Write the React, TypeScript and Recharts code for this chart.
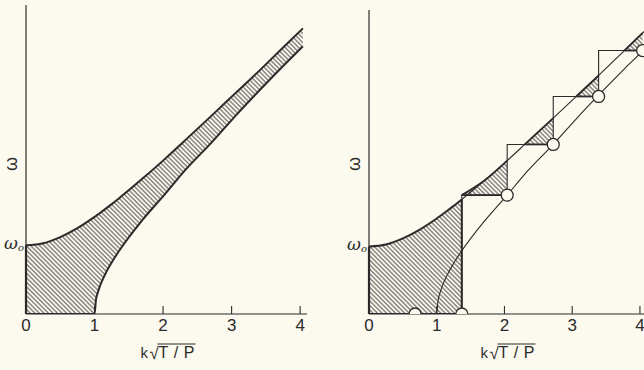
import React from "react";
import {
  ComposedChart,
  Area,
  Line,
  Scatter,
  XAxis,
  YAxis,
  Label,
  ReferenceLine,
} from "recharts";

const INK = "#2b2b2b";
const BG = "#fcf9ef";
const FONT = "'Liberation Sans', Arial, sans-serif";

// k grid and the two dispersion branches (units of omega_0)
const K = [0, 0.25, 0.5, 0.75, 1.0, 1.02, 1.05, 1.15, 1.25, 1.37, 1.7, 2.04, 2.3, 2.72, 3.06, 3.39, 3.77, 4.04, 4.1];
const UPPER = [1.0, 1.03, 1.12, 1.25, 1.414, 1.428, 1.45, 1.524, 1.6, 1.696, 1.972, 2.27, 2.51, 2.9, 3.22, 3.53, 3.9, 4.16, 4.22];
const LOWER = [null, null, null, null, 0, 0.2, 0.32, 0.568, 0.75, 0.936, 1.37, 1.76, 2.07, 2.51, 2.89, 3.24, 3.63, 3.9, 3.97];

const X_TICKS = [0, 1, 2, 3, 4];
const W0 = 1;

// right panel: staircase, hatched wedges, circles
const ZONE_K = 1.37;
const STEP_K = [1.37, 2.04, 2.72, 3.39, 4.04];
const STEP_W = [0, 1.76, 2.51, 3.22, 3.9];
const TRI_START = [1.37, 2.3, 3.06, 3.77];
const DOT_K = [0.68, 1.37, 2.04, 2.72, 3.39, 4.04];
const DOT_W = [0, 0, 1.76, 2.51, 3.22, 3.9];

const leftBand = K.map((k, i) => ({ k, band: [LOWER[i] ?? 0, UPPER[i]] })).filter((d) => d.k <= 4.04);
const zoneBand = K.map((k, i) => ({ k, band: [0, UPPER[i]] })).filter((d) => d.k <= ZONE_K);
const wedges = TRI_START.map((start, n) => {
  const lvl = STEP_W[n + 1];
  return K.map((k, i) => ({ k, band: [lvl, Math.max(lvl, UPPER[i])] })).filter(
    (d) => d.k >= start && d.k <= STEP_K[n + 1]
  );
});
const upperThin = K.map((k, i) => ({ k, w: UPPER[i] })).filter((d) => d.k >= ZONE_K);
const lowerThin = K.map((k, i) => ({ k, w: LOWER[i] })).filter((d) => d.w !== null);
const stairs = STEP_K.map((k, i) => ({ k, w: STEP_W[i] }));
const dots = DOT_K.map((k, i) => ({ k, w: DOT_W[i] }));

const XTick = (props: any) => {
  const { x, y, payload } = props;
  return (
    <g>
      {payload.value !== 0 && (
        <line x1={x} x2={x} y1={y} y2={y - 8} stroke={INK} strokeWidth={1.1} />
      )}
      <text x={x} y={y + 17} textAnchor="middle" fontSize={17} fill={INK} fontFamily={FONT}>
        {payload.value}
      </text>
    </g>
  );
};

const YTick = (props: any) => {
  const { x, y } = props;
  return (
    <text x={x} y={y + 4} textAnchor="end" fontSize={17} fill={INK} fontFamily="'DejaVu Serif', serif" fontStyle="italic">
      ω<tspan fontSize={10} dy={2}>o</tspan>
    </text>
  );
};

const omegaLabel = (p: any) => {
  const vb = p.viewBox;
  const x = vb.x + vb.width - 15;
  const y = 164;
  return (
    <text x={x} y={y} transform={`rotate(-90 ${x} ${y})`} textAnchor="middle" dominantBaseline="central" fontSize={18} fill={INK} fontFamily={FONT}>
      ω
    </text>
  );
};

const xTitle = (p: any) => {
  const vb = p.viewBox;
  const cx = vb.x + vb.width / 2 + 2;
  const base = 358;
  return (
    <g fill={INK} fontFamily={FONT}>
      <text x={cx - 28} y={base} fontSize={15}>k</text>
      <text x={cx - 19} y={base + 1} fontSize={17}>√</text>
      <line x1={cx - 11} x2={cx + 27} y1={344} y2={344} stroke={INK} strokeWidth={1.1} />
      <text x={cx - 10} y={base} fontSize={16} textLength={36} lengthAdjust="spacing">T/P</text>
    </g>
  );
};

const Dot = (props: any) => <circle cx={props.cx} cy={props.cy} r={6} fill={BG} stroke={INK} strokeWidth={1.3} />;

function Hatch({ id }: { id: string }) {
  return (
    <defs>
      <pattern id={id} patternUnits="userSpaceOnUse" width={3.2} height={3.2} patternTransform="rotate(-45)">
        <line x1={1.6} y1={0} x2={1.6} y2={3.2} stroke="#3a3a3a" strokeWidth={0.9} />
      </pattern>
    </defs>
  );
}

function LeftPanel() {
  return (
    <ComposedChart width={320} height={370} margin={{ top: 5, right: 13, bottom: 0, left: 0 }}>
      <Hatch id="hatchL" />
      <XAxis dataKey="k" type="number" domain={[0, 4.1]} ticks={X_TICKS} allowDataOverflow height={56}
        axisLine={{ stroke: INK, strokeWidth: 1.2 }} tickLine={false} tickSize={0} tickMargin={0} tick={<XTick />}>
        <Label content={xTitle} />
      </XAxis>
      <YAxis type="number" domain={[0, 4.5]} ticks={[W0]} allowDataOverflow width={26}
        axisLine={{ stroke: INK, strokeWidth: 1.2 }} tickLine={false} tickSize={0} tickMargin={2} tick={<YTick />}>
        <Label content={omegaLabel} />
      </YAxis>
      <Area data={leftBand} dataKey="band" type="monotone" fill="url(#hatchL)" fillOpacity={1}
        stroke={INK} strokeWidth={2} isAnimationActive={false} />
      <ReferenceLine segment={[{ x: 0, y: 0 }, { x: 0, y: W0 }]} stroke={INK} strokeWidth={2.2} />
    </ComposedChart>
  );
}

function RightPanel() {
  const zoneTop = UPPER[K.indexOf(ZONE_K)];
  return (
    <ComposedChart width={324} height={370} margin={{ top: 10, right: 0, bottom: 0, left: 0 }}>
      <Hatch id="hatchR" />
      <XAxis dataKey="k" type="number" domain={[0, 4.06]} ticks={X_TICKS} allowDataOverflow height={56}
        axisLine={{ stroke: INK, strokeWidth: 1.2 }} tickLine={false} tickSize={0} tickMargin={0} tick={<XTick />}>
        <Label content={xTitle} />
      </XAxis>
      <YAxis type="number" domain={[0, 4.5]} ticks={[W0]} allowDataOverflow width={49}
        axisLine={{ stroke: INK, strokeWidth: 1.2 }} tickLine={false} tickSize={0} tickMargin={2} tick={<YTick />}>
        <Label content={omegaLabel} />
      </YAxis>
      <Area data={zoneBand} dataKey="band" type="monotone" fill="url(#hatchR)" fillOpacity={1}
        stroke={INK} strokeWidth={2} isAnimationActive={false} />
      {wedges.map((w, i) => (
        <Area key={i} data={w} dataKey="band" type="monotone" fill="url(#hatchR)" fillOpacity={1}
          stroke={INK} strokeWidth={1.8} isAnimationActive={false} />
      ))}
      <Line data={upperThin} dataKey="w" type="monotone" stroke={INK} strokeWidth={1.1} dot={false} isAnimationActive={false} />
      <Line data={lowerThin} dataKey="w" type="monotone" stroke={INK} strokeWidth={1.1} dot={false} isAnimationActive={false} />
      <Line data={stairs} dataKey="w" type="stepBefore" stroke={INK} strokeWidth={1.1} dot={false} isAnimationActive={false} />
      <ReferenceLine segment={[{ x: 0, y: 0 }, { x: 0, y: W0 }]} stroke={INK} strokeWidth={2.2} />
      <ReferenceLine segment={[{ x: ZONE_K, y: 0 }, { x: ZONE_K, y: zoneTop }]} stroke={INK} strokeWidth={2} />
      <Scatter data={dots} dataKey="w" shape={<Dot />} isAnimationActive={false} />
    </ComposedChart>
  );
}

export default function App() {
  return (
    <div style={{ position: "absolute", left: 0, top: 0, width: 644, height: 370, background: BG, overflow: "hidden" }}>
      <div style={{ position: "absolute", left: 0, top: 0 }}>
        <LeftPanel />
      </div>
      <div style={{ position: "absolute", left: 320, top: 0 }}>
        <RightPanel />
      </div>
    </div>
  );
}
